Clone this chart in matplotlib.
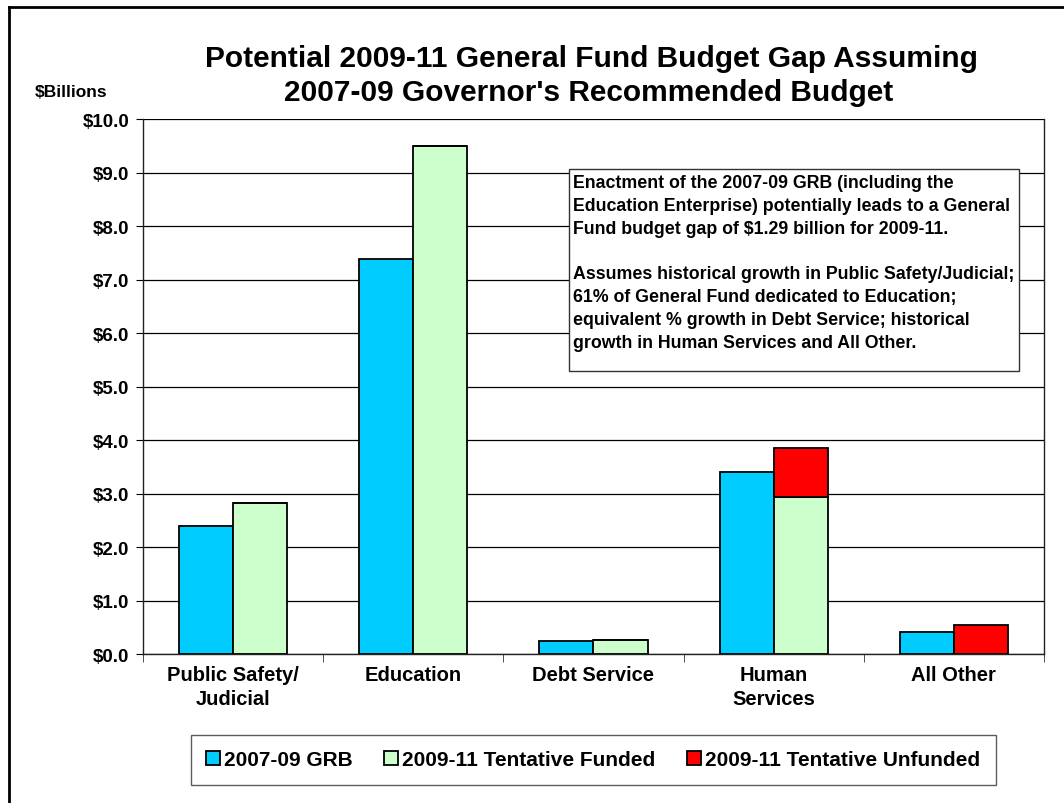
import numpy as np
from matplotlib import pyplot as plt
from matplotlib.lines import Line2D
from matplotlib.patches import Rectangle

plt.rcParams['font.family'] = ['Liberation Sans', 'DejaVu Sans']
plt.rcParams['font.weight'] = 'bold'

categories = ['Public Safety/\nJudicial', 'Education', 'Debt Service', 'Human\nServices', 'All Other']
grb_0709 = [2.39, 7.39, 0.25, 3.41, 0.42]
funded_0911 = [2.83, 9.49, 0.27, 2.94, 0.0]
unfunded_0911 = [0.0, 0.0, 0.0, 0.92, 0.54]

note = ('Enactment of the 2007-09 GRB (including the\n'
        'Education Enterprise) potentially leads to a General\n'
        'Fund budget gap of $1.29 billion for 2009-11.\n'
        '\n'
        'Assumes historical growth in Public Safety/Judicial;\n'
        '61% of General Fund dedicated to Education;\n'
        'equivalent % growth in Debt Service; historical\n'
        'growth in Human Services and All Other.')

fig = plt.figure(figsize=(10.64, 8.04), dpi=100)
ax = fig.add_axes([0.1344, 0.1853, 0.8468, 0.6654])

x = np.arange(len(categories))
w = 0.3
edge = dict(edgecolor='black', linewidth=1.3)
ax.bar(x - w / 2, grb_0709, w, color='#00CCFF', label='2007-09 GRB', zorder=3, **edge)
ax.bar(x + w / 2, funded_0911, w, color='#CCFFCC', label='2009-11 Tentative Funded', zorder=3, **edge)
ax.bar(x + w / 2, unfunded_0911, w, bottom=funded_0911, color='#FF0000',
       label='2009-11 Tentative Unfunded', zorder=3, **edge)

# axes, grid and ticks
ax.set_xlim(-0.5, len(categories) - 0.5)
ax.set_ylim(0, 10)
ax.set_yticks(np.arange(0, 10.5, 1))
ax.set_yticklabels(['$%.1f' % v for v in np.arange(0, 10.5, 1)], fontsize=13.5, fontweight='bold')
ax.yaxis.grid(True, color='black', linewidth=0.9, zorder=0)
ax.set_axisbelow(True)
ax.set_xticks(x)
ax.set_xticklabels(categories, fontsize=14.5, fontweight='bold', va='top', linespacing=1.3)
ax.tick_params(axis='x', length=0, pad=8)
ax.set_xticks(np.arange(-0.5, len(categories)), minor=True)
ax.tick_params(axis='x', which='minor', length=6, direction='out', color='#333333')
ax.tick_params(axis='y', length=5, direction='out', pad=5)
ax.spines['top'].set_visible(False)
for s in ['left', 'bottom', 'right']:
    ax.spines[s].set_linewidth(1.0)
    ax.spines[s].set_color('#222222')

# title and unit label
fig.text(0.556, 0.926, 'Potential 2009-11 General Fund Budget Gap Assuming',
         ha='center', va='center', fontsize=21.5, fontweight='bold')
fig.text(0.553, 0.884, "2007-09 Governor's Recommended Budget",
         ha='center', va='center', fontsize=21.5, fontweight='bold')
fig.text(0.033, 0.885, '$Billions', ha='left', va='center', fontsize=12.5, fontweight='bold')

# note box
fig.add_artist(Rectangle((0.5348, 0.5373), 0.4229, 0.2512, transform=fig.transFigure,
                         facecolor='white', edgecolor='#333333', linewidth=1.0, zorder=4))
fig.text(0.5385, 0.7825, note, ha='left', va='top', fontsize=12.75, fontweight='bold',
         linespacing=1.45, zorder=5)

leg = fig.legend(loc='center', bbox_to_anchor=(0.5575, 0.0535), ncol=3, fontsize=15,
                 frameon=True, fancybox=False, edgecolor='#333333', handlelength=0.67,
                 handleheight=0.67, columnspacing=1.5, handletextpad=0.2, borderpad=0.75,
                 borderaxespad=0)
leg.get_frame().set_linewidth(1.0)
for t in leg.get_texts():
    t.set_fontweight('bold')

# chart border
fig.add_artist(Line2D([0.008, 0.008], [0, 0.99], transform=fig.transFigure, color='black', linewidth=2))
fig.add_artist(Line2D([0.008, 1.0], [0.99, 0.99], transform=fig.transFigure, color='black', linewidth=2))

plt.savefig('out.png', dpi=100)
